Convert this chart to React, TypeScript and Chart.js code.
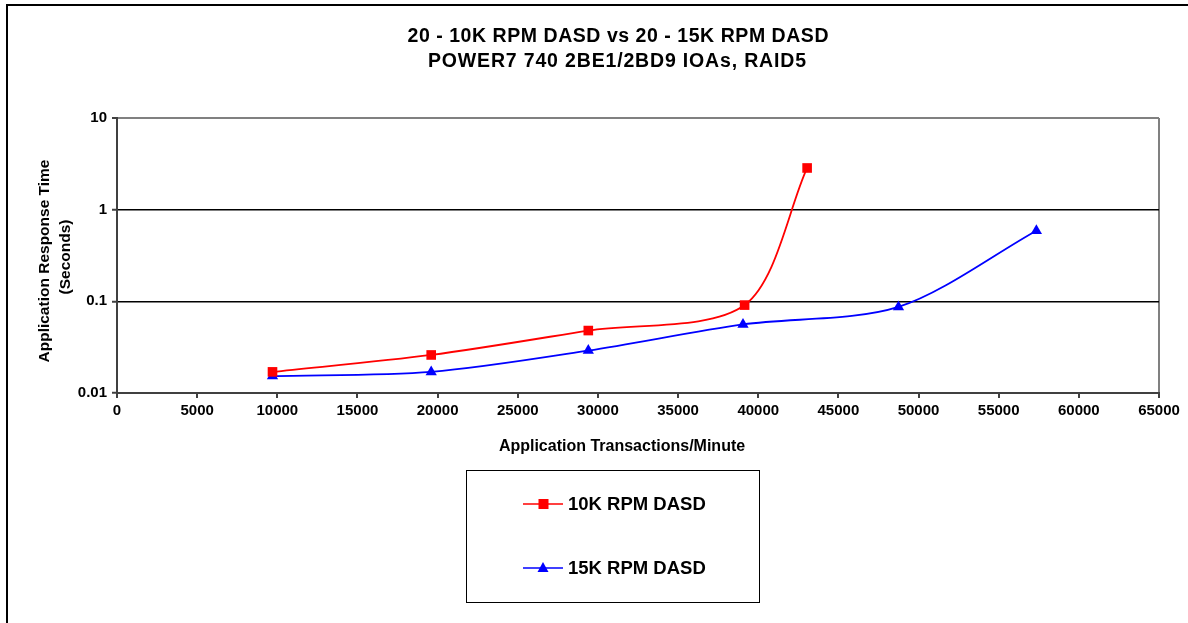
import React, { useEffect, useRef } from "react";
import { Chart, registerables } from "chart.js";

Chart.register(...registerables);

const titleLines = ["20 - 10K RPM DASD vs 20 - 15K RPM DASD", "POWER7 740 2BE1/2BD9 IOAs, RAID5"];
const xAxisTitle = "Application Transactions/Minute";
const yAxisTitle = ["Application Response Time", "(Seconds)"];
const seriesNames = ["10K RPM DASD", "15K RPM DASD"];

const x10K = [9700, 19600, 29400, 39150, 43050];
const y10K = [0.017, 0.026, 0.048, 0.091, 2.85];
const x15K = [9700, 19600, 29400, 39050, 48750, 57350];
const y15K = [0.0153, 0.017, 0.029, 0.056, 0.087, 0.59];

const yTickValues = [0.01, 0.1, 1, 10];
const yTickLabels = ["0.01", "0.1", "1", "10"];

const FONT = '"Liberation Sans", Arial, sans-serif';

function drawFit(ctx: CanvasRenderingContext2D, text: string, cx: number, cy: number, size: number, targetW?: number) {
  ctx.save();
  ctx.font = `bold ${size}px ${FONT}`;
  (ctx as any).letterSpacing = "0px";
  const w = ctx.measureText(text).width;
  let ls = 0;
  let total = w;
  if (targetW && text.length > 1) {
    ls = (targetW - w) / (text.length - 1);
    total = targetW;
  }
  (ctx as any).letterSpacing = `${ls}px`;
  ctx.textAlign = "left";
  ctx.textBaseline = "middle";
  ctx.fillStyle = "#000";
  ctx.fillText(text, cx - total / 2, cy);
  ctx.restore();
}

const decorPlugin = {
  id: "decor",
  beforeDraw(chart: any) {
    const ctx = chart.ctx as CanvasRenderingContext2D;
    ctx.save();
    ctx.fillStyle = "#fff";
    ctx.fillRect(0, 0, chart.width, chart.height);
    ctx.fillStyle = "#000";
    ctx.fillRect(6, 4, chart.width - 6, 2);
    ctx.fillRect(6, 4, 2, chart.height - 4);
    ctx.restore();
  },
  afterDraw(chart: any) {
    const ctx = chart.ctx as CanvasRenderingContext2D;
    drawFit(ctx, titleLines[0], 618, 37, 19.5, 421);
    drawFit(ctx, titleLines[1], 617, 62, 19.5, 378);
    drawFit(ctx, xAxisTitle, 622, 447, 16);
    // y axis title
    ctx.save();
    ctx.translate(45, 261);
    ctx.rotate(-Math.PI / 2);
    drawFit(ctx, yAxisTitle[0], 0, 0, 15.5);
    ctx.restore();
    ctx.save();
    ctx.translate(66, 257);
    ctx.rotate(-Math.PI / 2);
    drawFit(ctx, yAxisTitle[1], 0, 0, 15.5);
    ctx.restore();
    // legend
    ctx.save();
    ctx.strokeStyle = "#000";
    ctx.lineWidth = 1;
    ctx.strokeRect(466.5, 470.5, 293, 132);
    const rows = [504, 568];
    const colors = ["#FF0000", "#0000FF"];
    rows.forEach((ry, i) => {
      ctx.strokeStyle = colors[i];
      ctx.lineWidth = 1.5;
      ctx.beginPath();
      ctx.moveTo(523, ry);
      ctx.lineTo(563, ry);
      ctx.stroke();
      ctx.fillStyle = colors[i];
      if (i === 0) {
        ctx.fillRect(538.5, ry - 5, 10, 10);
      } else {
        ctx.beginPath();
        ctx.moveTo(543, ry - 6);
        ctx.lineTo(548.5, ry + 4);
        ctx.lineTo(537.5, ry + 4);
        ctx.closePath();
        ctx.fill();
      }
      ctx.font = `bold 18.5px ${FONT}`;
      ctx.fillStyle = "#000";
      ctx.textAlign = "left";
      ctx.textBaseline = "middle";
      ctx.fillText(seriesNames[i], 568, ry + 1);
    });
    ctx.restore();
  },
};

export default function App() {
  const ref = useRef<HTMLCanvasElement | null>(null);
  useEffect(() => {
    if (!ref.current) return;
    const chart = new Chart(ref.current, {
      type: "line",
      data: {
        datasets: [
          {
            label: seriesNames[0],
            data: x10K.map((x, i) => ({ x, y: y10K[i] })),
            borderColor: "#FF0000",
            backgroundColor: "#FF0000",
            borderWidth: 1.8,
            pointStyle: "rect",
            pointRadius: 6.8,
            pointBorderWidth: 0,
            tension: 0.3,
          },
          {
            label: seriesNames[1],
            data: x15K.map((x, i) => ({ x, y: y15K[i] })),
            borderColor: "#0000FF",
            backgroundColor: "#0000FF",
            borderWidth: 1.8,
            pointStyle: "triangle",
            pointRadius: 6.5,
            pointBorderWidth: 0,
            tension: 0.3,
          },
        ],
      },
      options: {
        animation: false,
        responsive: false,
        layout: { padding: { left: 0, top: 118, right: 29, bottom: 200 } },
        plugins: { legend: { display: false }, title: { display: false }, tooltip: { enabled: false } },
        scales: {
          x: {
            type: "linear",
            min: 0,
            max: 65000,
            afterFit: (s: any) => {
              s.height = 30;
            },
            ticks: {
              stepSize: 5000,
              autoSkip: false,
              maxRotation: 0,
              padding: 4,
              color: "#000",
              font: { family: FONT, size: 15, weight: "bold" },
              callback: (v: any) => String(v),
            },
            grid: {
              color: (c: any) => (c.tick && c.tick.value === 65000 ? "#808080" : "rgba(0,0,0,0)"),
              tickColor: "#404040",
              tickLength: 5,
              tickWidth: 2,
              lineWidth: 2,
            },
            border: { color: "#404040", width: 2 },
          },
          y: {
            type: "logarithmic",
            min: 0.01,
            max: 10,
            afterFit: (s: any) => {
              s.width = 117;
            },
            afterBuildTicks: (s: any) => {
              s.ticks = yTickValues.map((v) => ({ value: v }));
            },
            ticks: {
              padding: 5,
              color: "#000",
              font: { family: FONT, size: 15, weight: "bold" },
              callback: (v: any) => {
                const idx = yTickValues.findIndex((t) => Math.abs(t - v) < t * 1e-6);
                return idx >= 0 ? yTickLabels[idx] : "";
              },
            },
            grid: {
              color: (c: any) => {
                const v = c.tick ? c.tick.value : 0;
                if (Math.abs(v - 10) < 1e-6) return "#808080";
                if (Math.abs(v - 1) < 1e-6 || Math.abs(v - 0.1) < 1e-6) return "#000";
                return "rgba(0,0,0,0)";
              },
              lineWidth: (c: any) => {
                const v = c.tick ? c.tick.value : 0;
                return Math.abs(v - 10) < 1e-6 ? 2 : 1.5;
              },
              tickColor: "#404040",
              tickLength: 5,
              tickWidth: 2,
            },
            border: { color: "#404040", width: 2 },
          },
        },
      },
      plugins: [decorPlugin],
    } as any);
    return () => chart.destroy();
  }, []);
  return (
    <div style={{ position: "absolute", left: 0, top: 0, width: 1188, height: 623 }}>
      <canvas ref={ref} width={1188} height={623} style={{ display: "block" }} />
    </div>
  );
}
